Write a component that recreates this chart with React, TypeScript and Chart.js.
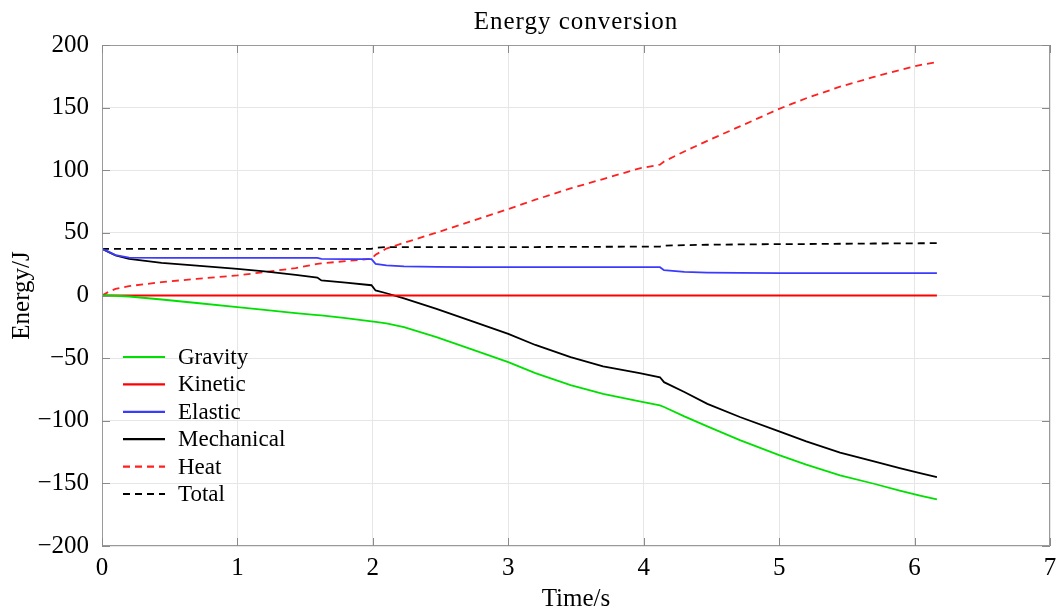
import React, { useEffect, useRef } from "react";
import { Chart, registerables } from "chart.js";

Chart.register(...registerables);

// Time samples (s)
const time = [0, 0.05, 0.1, 0.2, 0.44, 0.7, 1.0, 1.2, 1.43, 1.59, 1.62, 1.8, 1.99, 2.02, 2.1, 2.23, 2.47, 2.72, 3.0, 3.2, 3.46, 3.7, 3.97, 4.12, 4.15, 4.3, 4.47, 4.71, 5.0, 5.2, 5.45, 5.7, 5.89, 6.04, 6.165];

// Energies (J)
const gravity = [0, 0, -0.2, -0.8, -3.2, -6.0, -9.3, -11.5, -14.1, -15.6, -15.9, -18.0, -20.6, -21.0, -22.3, -25.3, -33.3, -42.6, -53.2, -62.0, -71.5, -78.5, -84.6, -87.8, -89.0, -96.5, -104.5, -115.5, -127.5, -135.0, -143.6, -150.3, -155.8, -159.8, -162.8];
const kinetic = [0, 0, 0, 0, 0, 0, 0, 0, 0, 0, 0, 0, 0, 0, 0, 0, 0, 0, 0, 0, 0, 0, 0, 0, 0, 0, 0, 0, 0, 0, 0, 0, 0, 0, 0];
const elastic = [37.3, 34.8, 32.3, 30.3, 30.1, 30.1, 30.1, 30.1, 30.1, 30.1, 29.2, 29.1, 29.0, 25.3, 24.0, 23.2, 22.9, 22.7, 22.6, 22.6, 22.6, 22.6, 22.6, 22.6, 20.2, 18.9, 18.3, 18.0, 17.9, 17.9, 17.9, 17.9, 17.9, 17.9, 17.9];
const mechanical = [37.3, 34.6, 32.0, 29.3, 26.1, 23.8, 21.3, 19.3, 16.5, 14.3, 12.0, 10.2, 8.2, 4.0, 1.8, -2.3, -10.6, -20.0, -30.6, -39.5, -49.2, -56.5, -62.0, -65.3, -69.2, -77.0, -86.5, -97.0, -108.5, -116.5, -125.5, -132.5, -137.8, -141.8, -145.0];
const heat = [0, 3.0, 5.3, 7.5, 10.7, 13.3, 16.0, 18.7, 21.9, 25.2, 25.6, 27.5, 29.3, 32.5, 37.5, 42.0, 50.2, 59.0, 69.0, 76.5, 85.5, 93.0, 101.5, 104.5, 107.0, 115.0, 123.5, 135.0, 149.0, 157.5, 166.7, 174.5, 180.0, 184.0, 186.3];
const total = [37.3, 37.3, 37.3, 37.3, 37.3, 37.3, 37.3, 37.3, 37.3, 37.3, 37.3, 37.3, 37.3, 38.2, 38.6, 38.6, 38.6, 38.6, 38.6, 38.7, 38.8, 38.9, 39.0, 39.1, 39.8, 40.2, 40.5, 40.8, 41.0, 41.1, 41.3, 41.5, 41.6, 41.7, 41.8];

const seriesNames = ["Gravity", "Kinetic", "Elastic", "Mechanical", "Heat", "Total"];
const xTickValues = [0, 1, 2, 3, 4, 5, 6, 7];
const yTickValues = [-200, -150, -100, -50, 0, 50, 100, 150, 200];
const titleText = "Energy conversion";

const FONT = "'Liberation Serif', 'DejaVu Serif', serif";

const toPoints = (ys: number[]) => time.map((t, i) => ({ x: t, y: ys[i] }));

const titlePlugin = {
  id: "plotTitle",
  afterDraw(chart: any) {
    const { ctx, chartArea } = chart;
    ctx.save();
    ctx.font = `25px ${FONT}`;
    (ctx as any).letterSpacing = "1px";
    ctx.fillStyle = "#000";
    ctx.textAlign = "center";
    ctx.textBaseline = "alphabetic";
    ctx.fillText(titleText, (chartArea.left + chartArea.right) / 2, 28.5);
    ctx.restore();
  },
};

const boxPlugin = {
  id: "boxPlugin",
  afterDatasetsDraw(chart: any) {
    const { ctx, chartArea, scales } = chart;
    const { left, right, top, bottom } = chartArea;
    ctx.save();
    ctx.strokeStyle = "#9a9a9a";
    ctx.lineWidth = 1;
    ctx.strokeRect(left + 0.5, top + 0.5, right - left - 1, bottom - top - 1);
    ctx.strokeStyle = "#8a8a8a";
    ctx.beginPath();
    const tl = 8;
    yTickValues.forEach((v) => {
      const y = Math.round(scales.y.getPixelForValue(v)) + 0.5;
      ctx.moveTo(left, y);
      ctx.lineTo(left + tl, y);
      ctx.moveTo(right, y);
      ctx.lineTo(right - tl, y);
    });
    xTickValues.forEach((v) => {
      const x = Math.round(scales.x.getPixelForValue(v)) + 0.5;
      ctx.moveTo(x, bottom);
      ctx.lineTo(x, bottom - tl);
      ctx.moveTo(x, top);
      ctx.lineTo(x, top + tl);
    });
    ctx.stroke();
    ctx.restore();
  },
};

const legendPlugin = {
  id: "insideLegend",
  afterDraw(chart: any) {
    const { ctx } = chart;
    ctx.save();
    ctx.font = `23px ${FONT}`;
    ctx.textBaseline = "middle";
    ctx.textAlign = "left";
    chart.data.datasets.forEach((ds: any, i: number) => {
      const y = 357 + i * 27.4;
      ctx.strokeStyle = ds.borderColor;
      ctx.lineWidth = 2.2;
      ctx.setLineDash(ds.borderDash || []);
      ctx.beginPath();
      ctx.moveTo(123, y);
      ctx.lineTo(165, y);
      ctx.stroke();
      ctx.setLineDash([]);
      ctx.fillStyle = "#000";
      ctx.fillText(ds.label, 178, y + 1);
    });
    ctx.restore();
  },
};

export default function App() {
  const canvasRef = useRef<HTMLCanvasElement | null>(null);

  useEffect(() => {
    if (!canvasRef.current) return;
    const colors = ["#00e000", "#ff0000", "#3b3bff", "#000000", "#ff2020", "#000000"];
    const dashes = [[], [], [], [], [7, 5], [7, 5]];
    const values = [gravity, kinetic, elastic, mechanical, heat, total];
    const chart = new Chart(canvasRef.current, {
      type: "line",
      data: {
        datasets: seriesNames.map((name, i) => ({
          label: name,
          data: toPoints(values[i]),
          borderColor: colors[i],
          backgroundColor: colors[i],
          borderWidth: 1.8,
          borderDash: dashes[i],
          pointRadius: 0,
          tension: 0,
          fill: false,
        })),
      },
      options: {
        animation: false,
        responsive: false,
        maintainAspectRatio: false,
        layout: { padding: { left: 0, right: 8, top: 45, bottom: 0 } },
        plugins: {
          legend: { display: false },
          tooltip: { enabled: false },
          title: { display: false },
        },
        scales: {
          x: {
            type: "linear",
            min: 0,
            max: 7,
            afterBuildTicks: (scale: any) => {
              scale.ticks = xTickValues.map((v) => ({ value: v }));
            },
            afterFit: (scale: any) => {
              scale.height = 69;
              scale.paddingRight = 0;
              scale.paddingLeft = 0;
            },
            grid: { color: "#e6e6e6", drawTicks: false },
            border: { display: false },
            ticks: {
              color: "#000",
              padding: 7,
              font: { family: FONT, size: 25 },
              maxRotation: 0,
            },
            title: {
              display: true,
              text: "Time/s",
              color: "#000",
              font: { family: FONT, size: 25 },
              padding: { top: 0, bottom: 1 },
            },
          },
          y: {
            type: "linear",
            min: -200,
            max: 200,
            afterBuildTicks: (scale: any) => {
              scale.ticks = yTickValues.map((v) => ({ value: v }));
            },
            afterFit: (scale: any) => {
              scale.width = 102;
              scale.paddingTop = 0;
              scale.paddingBottom = 0;
            },
            grid: { color: "#e6e6e6", drawTicks: false },
            border: { display: false },
            ticks: {
              color: "#000",
              padding: 13,
              font: { family: FONT, size: 25 },
              callback: (v: any) => String(v).replace("-", "\u2212"),
            },
            title: {
              display: true,
              text: "Energy/J",
              color: "#000",
              font: { family: FONT, size: 25 },
              padding: { top: 7, bottom: 0 },
            },
          },
        },
      },
      plugins: [boxPlugin, legendPlugin, titlePlugin],
    } as any);
    return () => chart.destroy();
  }, []);

  return (
    <div style={{ position: "absolute", left: 0, top: 0, width: 1058, height: 615, background: "#fff" }}>
      <canvas ref={canvasRef} width={1058} height={615} style={{ width: 1058, height: 615 }} />
    </div>
  );
}
